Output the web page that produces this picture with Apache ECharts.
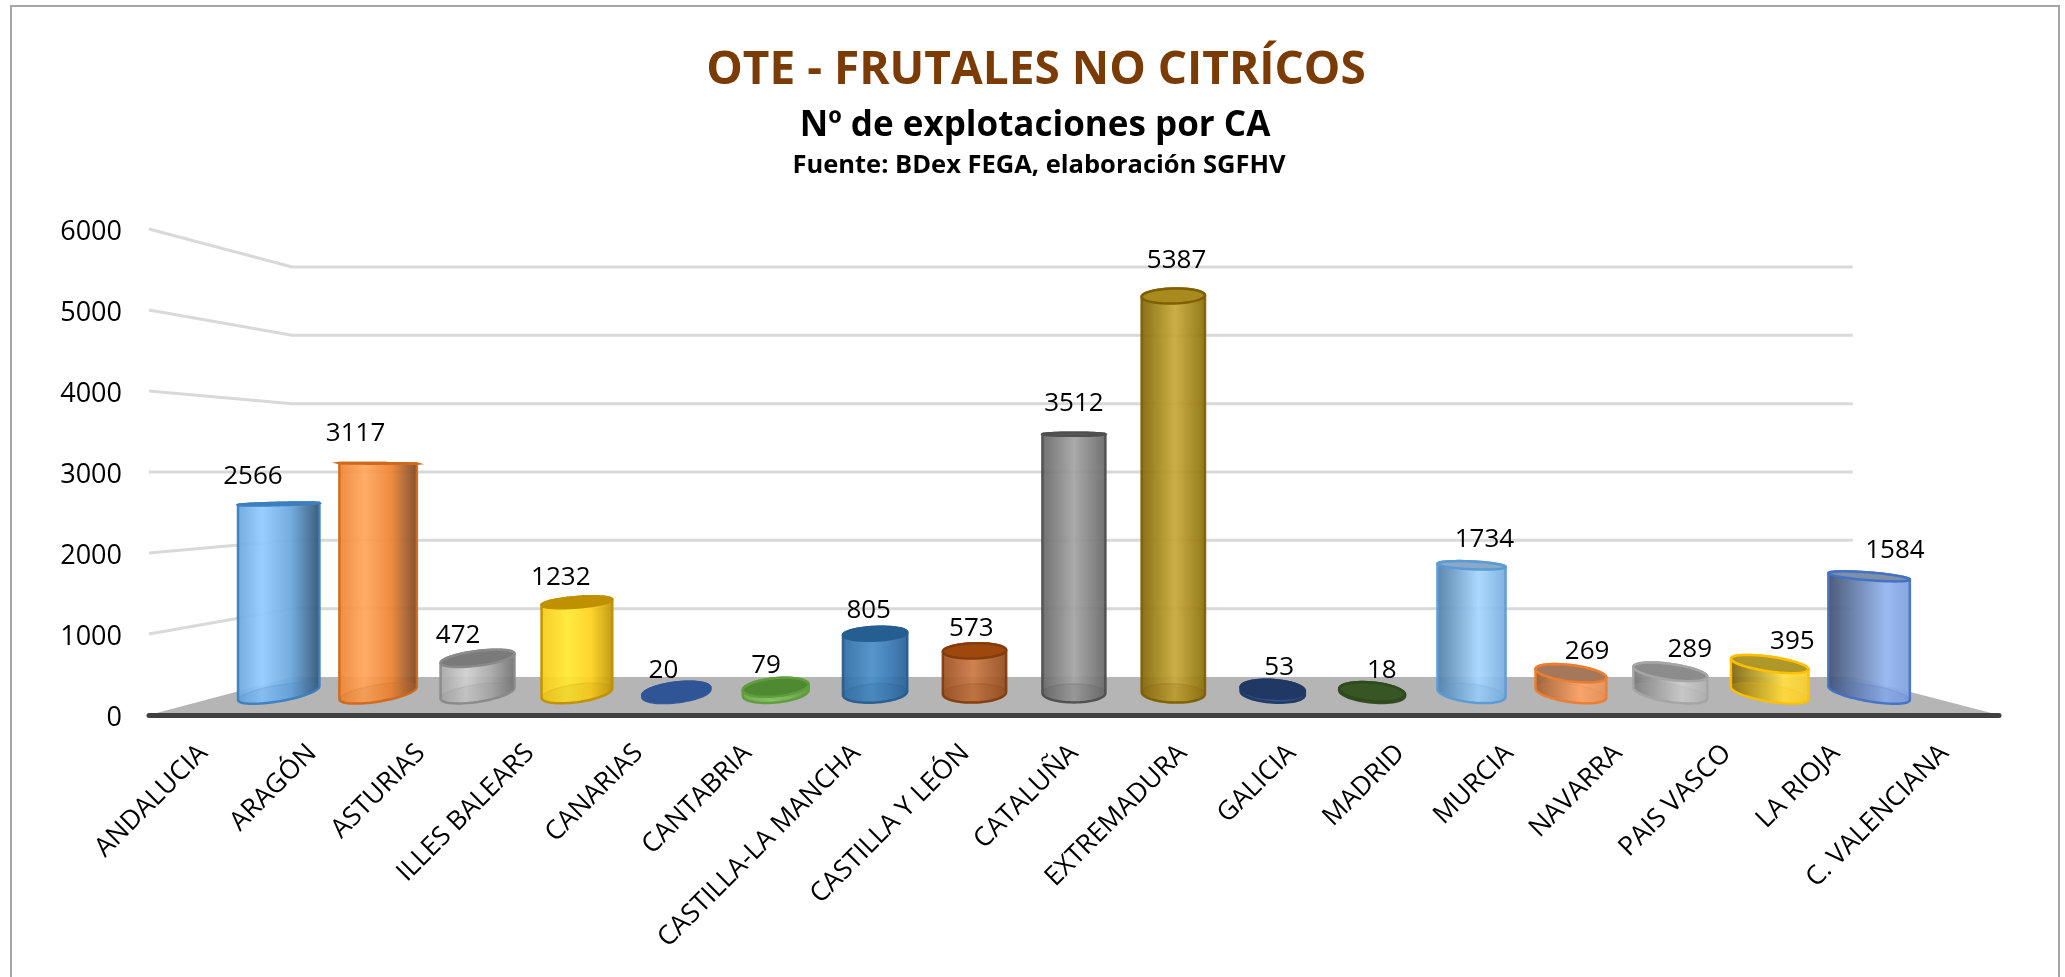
<!DOCTYPE html>
<html><head><meta charset="utf-8">
<style>html,body{margin:0;padding:0;background:#fff;overflow:hidden}#c{width:2065px;height:977px}</style>
<script src="https://cdn.jsdelivr.net/npm/echarts@6/dist/echarts.min.js"></script>
</head><body><div id="c"></div>
<script>
const categories = ['ANDALUCIA','ARAGÓN','ASTURIAS','ILLES BALEARS','CANARIAS','CANTABRIA','CASTILLA-LA MANCHA','CASTILLA Y LEÓN','CATALUÑA','EXTREMADURA','GALICIA','MADRID','MURCIA','NAVARRA','PAIS VASCO','LA RIOJA','C. VALENCIANA'];
const explotaciones = [2566,3117,472,1232,20,79,805,573,3512,5387,53,18,1734,269,289,395,1584];
const gridValues = [1000,2000,3000,4000,5000,6000];
// base, light, dark, edge, top
const palette = [
 ['#6aa6dc','#92ccff','#2f4f6e','#3d7fbe','#2e75b6'],
 ['#ee8434','#ffa75e','#6b4126','#d0691c','#c55a11'],
 ['#a8a8a8','#cfcfcf','#666666','#8a8a8a','#7a7a7a'],
 ['#ffd21f','#ffe933','#a88300','#bf9000','#bf9000'],
 ['#3a66ad','#4472c4','#264478','#2f5597','#2f5597'],
 ['#7cb95a','#8cc96a','#548235','#5f9e3c','#4f8a32'],
 ['#3a7ab5','#4c8fc8','#1f4e79','#255e91','#255e91'],
 ['#b8622e','#cb7a45','#6e3510','#843c0c','#9e480e'],
 ['#7c7c7c','#a4a4a4','#4d4d4d','#4f4f4f','#636363'],
 ['#a58412','#c9a93a','#5f4a00','#7f6000','#a88a1e'],
 ['#264478','#2f5597','#1f3864','#1f3864','#1f3864'],
 ['#43682b','#507a34','#375623','#2f4a1e','#375623'],
 ['#85bdee','#a6d6ff','#3c6388','#5b9bd5','#8aa8c8'],
 ['#f09a60','#ffab73','#7a4a2a','#ed7d31','#a5785a'],
 ['#b0b0b0','#cfcfcf','#6e6e6e','#a5a5a5','#8c8c8c'],
 ['#f5cc30','#ffdf45','#6e5a10','#ffc000','#b0972a'],
 ['#7f9fde','#94b5ee','#3f4f6e','#4472c4','#7f8fa8']
];

const FONT = '"Open Sans","Noto Sans",sans-serif';
const VX = 1064, VY = 472, BACK = 0.8436;          // vanishing point, back-wall scale
const BAR_SX = 0.9134, BAR_SY = 0.91, BAR_CX = 1073, SHEAR = 0.0325, RADIUS = 31.5;
const proj = (x, y, s) => [VX + (x - VX) * s, VY + (y - VY) * s];

function ellipsePts(xc, yc, a, b, from, to, n) {
  const pts = [];
  for (let i = 0; i <= n; i++) {
    const t = from + (to - from) * i / n;
    pts.push([xc + RADIUS * Math.cos(t) + a * Math.sin(t), yc + b * Math.sin(t)]);
  }
  return pts;
}

function renderFloor(params, api) {
  const c = params.coordSys, yF = c.y + c.height;
  return { type: 'polygon', silent: true, shape: { points: [
    [c.x, yF], [c.x + c.width, yF], proj(c.x + c.width, yF, BACK), proj(c.x, yF, BACK)
  ]}, style: { fill: '#b5b5b5' } };
}

function renderGrid(params, api) {
  const c = params.coordSys, y = api.coord([0, api.value(0)])[1];
  return { type: 'polyline', silent: true, shape: { points: [
    [c.x, y], proj(c.x, y, BACK), proj(c.x + c.width, y, BACK)
  ]}, style: { stroke: '#d9d9d9', lineWidth: 3, fill: null } };
}

function renderBar(params, api) {
  const i = api.value(0), v = api.value(1);
  const front = api.coord([i, v]), base = api.coord([i, 0]);
  const xc = BAR_CX + (front[0] - BAR_CX) * BAR_SX;
  const yTop = VY + (front[1] - VY) * BAR_SY, yBase = VY + (base[1] - VY) * BAR_SY;
  const off = (xc - BAR_CX) / 800;
  const a = SHEAR * (xc - BAR_CX);
  const depth = 0.042 * (1 + 0.15 * Math.abs(off));
  const bTop = depth * (yTop - VY), bBase = depth * (yBase - VY);
  const tR = Math.atan2(a, RADIUS);
  const [col, light, dark, edge, top] = palette[i];
  const upper = bTop >= 0
    ? ellipsePts(xc, yTop, a, bTop, tR + Math.PI, tR + 2 * Math.PI, 32)
    : ellipsePts(xc, yTop, a, bTop, tR + Math.PI, tR, 32);
  const lower = ellipsePts(xc, yBase, a, bBase, tR, tR + Math.PI, 32);
  const hp = 0.5 + 0.2 * off;
  const lerp = echarts.color.lerp;
  const t0 = Math.min(1, Math.max(0, 0.45 + 0.55 * off));
  const t1 = Math.min(1, Math.max(0, 0.45 - 0.55 * off));
  const stops = [
    { offset: 0, color: lerp(t0, [col, dark]) },
    { offset: hp, color: light },
    { offset: 1, color: lerp(t1, [col, dark]) }
  ];
  if (off < -0.2) stops.splice(2, 0, { offset: (hp + 1) / 2, color: col });
  const fill = new echarts.graphic.LinearGradient(0, 0, 1, 0, stops);
  const wholeTop = ellipsePts(xc, yTop, a, bTop, 0, 2 * Math.PI, 48);
  const wholeBase = ellipsePts(xc, yBase, a, bBase, 0, 2 * Math.PI, 48);
  return { type: 'group', children: [
    { type: 'polygon', silent: true, shape: { points: upper.concat(lower) },
      style: { fill: fill, stroke: edge, lineWidth: 2.5, opacity: 0.94 } },
    { type: 'polygon', silent: true, shape: { points: wholeBase },
      style: { fill: edge, opacity: 0.16, stroke: edge, lineWidth: 1.5 } },
    { type: 'polygon', silent: true, shape: { points: wholeTop },
      style: { fill: top, stroke: edge, lineWidth: 2.5 } },
    { type: 'text', silent: true, style: {
        x: xc + a, y: yTop - 29 + 0.035 * (yTop - VY), text: String(v), fill: '#000', font: '26px ' + FONT,
        align: 'center', verticalAlign: 'middle' } }
  ]};
}

const chart = echarts.init(document.getElementById('c'), null, { renderer: 'canvas' });
chart.setOption({
  animation: false,
  backgroundColor: '#fff',
  graphic: [{ type: 'rect', silent: true, shape: { x: 11, y: 6, width: 2048, height: 1000 },
    style: { fill: null, stroke: '#a6a6a6', lineWidth: 2 } }],
  title: [
    { text: 'OTE - FRUTALES NO CITRÍCOS', left: 1031, top: 66, textAlign: 'center', textVerticalAlign: 'middle',
      textStyle: { color: '#7b3b05', fontFamily: FONT, fontWeight: 'bold', fontSize: 46 } },
    { text: 'Nº de explotaciones por CA', left: 1030, top: 121, textAlign: 'center', textVerticalAlign: 'middle',
      textStyle: { color: '#000', fontFamily: FONT, fontWeight: 'bold', fontSize: 35 } },
    { text: 'Fuente: BDex FEGA, elaboración SGFHV', left: 1034, top: 161, textAlign: 'center', textVerticalAlign: 'middle',
      textStyle: { color: '#000', fontFamily: FONT, fontWeight: 'bold', fontSize: 25.5 } }
  ],
  grid: { left: 149, top: 229, width: 1850, height: 486, containLabel: false },
  xAxis: { type: 'category', data: categories, z: 10,
    axisLine: { show: true, lineStyle: { color: '#404040', width: 5 } },
    axisTick: { show: false }, splitLine: { show: false },
    axisLabel: { interval: 0, rotate: 45, margin: 34, color: '#000', fontFamily: FONT, fontSize: 26.5 } },
  yAxis: { type: 'value', min: 0, max: 6000, interval: 1000,
    axisLine: { show: false }, axisTick: { show: false }, splitLine: { show: false },
    axisLabel: { margin: 27, color: '#000', fontFamily: FONT, fontSize: 27, verticalAlign: 'top', lineHeight: 6,
      formatter: v => String(v) } },
  series: [
    { type: 'custom', name: 'floor', z: 1, clip: false, renderItem: renderFloor, data: [[0]], silent: true },
    { type: 'custom', name: 'grid', z: 2, clip: false, renderItem: renderGrid, silent: true,
      encode: { y: 0 }, data: gridValues.map(v => [v]) },
    { type: 'custom', name: 'Nº de explotaciones', z: 3, clip: false, renderItem: renderBar, silent: true,
      encode: { x: 0, y: 1 }, data: explotaciones.map((v, i) => [i, v]) }
  ]
});
</script></body></html>
